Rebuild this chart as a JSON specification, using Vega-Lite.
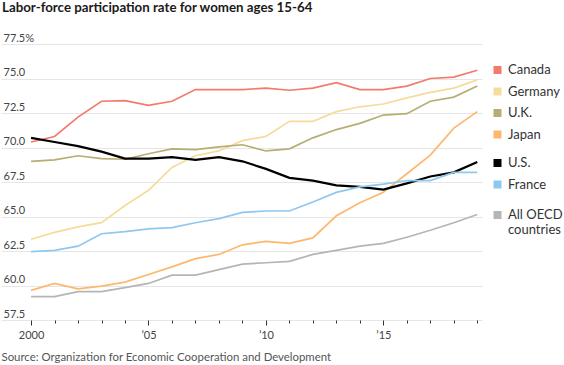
{
  "$schema": "https://vega.github.io/schema/vega-lite/v6.json",
  "autosize": "none",
  "width": 481,
  "height": 276,
  "padding": {"left": 1, "top": 44, "right": 82, "bottom": 45},
  "background": "white",
  "title": {
    "text": "Labor-force participation rate for women ages 15-64",
    "anchor": "start",
    "frame": "group",
    "font": "Lato",
    "fontSize": 13.3,
    "fontWeight": "bold",
    "color": "#1a1a1a",
    "offset": 18,
    "dx": 1
  },
  "config": {
    "view": {"stroke": null},
    "font": "Lato",
    "legend": {
      "symbolType": "square",
      "symbolSize": 16,
      "symbolStrokeWidth": 4,
      "labelFontSize": 13,
      "labelColor": "#333333",
      "labelFont": "Lato",
      "padding": 0,
      "rowPadding": 0.5,
      "labelOffset": 4,
      "title": null
    }
  },
  "data": {
    "values": [
      {"year": 2000, "country": "Canada", "value": 70.4},
      {"year": 2001, "country": "Canada", "value": 70.8},
      {"year": 2002, "country": "Canada", "value": 72.2},
      {"year": 2003, "country": "Canada", "value": 73.35},
      {"year": 2004, "country": "Canada", "value": 73.4},
      {"year": 2005, "country": "Canada", "value": 73.05},
      {"year": 2006, "country": "Canada", "value": 73.35},
      {"year": 2007, "country": "Canada", "value": 74.2},
      {"year": 2008, "country": "Canada", "value": 74.2},
      {"year": 2009, "country": "Canada", "value": 74.2},
      {"year": 2010, "country": "Canada", "value": 74.3},
      {"year": 2011, "country": "Canada", "value": 74.15},
      {"year": 2012, "country": "Canada", "value": 74.3},
      {"year": 2013, "country": "Canada", "value": 74.7},
      {"year": 2014, "country": "Canada", "value": 74.2},
      {"year": 2015, "country": "Canada", "value": 74.2},
      {"year": 2016, "country": "Canada", "value": 74.45},
      {"year": 2017, "country": "Canada", "value": 75.0},
      {"year": 2018, "country": "Canada", "value": 75.1},
      {"year": 2019, "country": "Canada", "value": 75.6},
      {"year": 2000, "country": "Germany", "value": 63.35},
      {"year": 2001, "country": "Germany", "value": 63.85},
      {"year": 2002, "country": "Germany", "value": 64.25},
      {"year": 2003, "country": "Germany", "value": 64.55},
      {"year": 2004, "country": "Germany", "value": 65.8},
      {"year": 2005, "country": "Germany", "value": 66.9},
      {"year": 2006, "country": "Germany", "value": 68.55},
      {"year": 2007, "country": "Germany", "value": 69.4},
      {"year": 2008, "country": "Germany", "value": 69.75},
      {"year": 2009, "country": "Germany", "value": 70.5},
      {"year": 2010, "country": "Germany", "value": 70.8},
      {"year": 2011, "country": "Germany", "value": 71.9},
      {"year": 2012, "country": "Germany", "value": 71.9},
      {"year": 2013, "country": "Germany", "value": 72.6},
      {"year": 2014, "country": "Germany", "value": 72.95},
      {"year": 2015, "country": "Germany", "value": 73.15},
      {"year": 2016, "country": "Germany", "value": 73.6},
      {"year": 2017, "country": "Germany", "value": 74.0},
      {"year": 2018, "country": "Germany", "value": 74.3},
      {"year": 2019, "country": "Germany", "value": 74.9},
      {"year": 2000, "country": "U.K.", "value": 69.0},
      {"year": 2001, "country": "U.K.", "value": 69.1},
      {"year": 2002, "country": "U.K.", "value": 69.4},
      {"year": 2003, "country": "U.K.", "value": 69.2},
      {"year": 2004, "country": "U.K.", "value": 69.15},
      {"year": 2005, "country": "U.K.", "value": 69.55},
      {"year": 2006, "country": "U.K.", "value": 69.9},
      {"year": 2007, "country": "U.K.", "value": 69.85},
      {"year": 2008, "country": "U.K.", "value": 70.05},
      {"year": 2009, "country": "U.K.", "value": 70.2},
      {"year": 2010, "country": "U.K.", "value": 69.75},
      {"year": 2011, "country": "U.K.", "value": 69.9},
      {"year": 2012, "country": "U.K.", "value": 70.7},
      {"year": 2013, "country": "U.K.", "value": 71.3},
      {"year": 2014, "country": "U.K.", "value": 71.75},
      {"year": 2015, "country": "U.K.", "value": 72.35},
      {"year": 2016, "country": "U.K.", "value": 72.45},
      {"year": 2017, "country": "U.K.", "value": 73.35},
      {"year": 2018, "country": "U.K.", "value": 73.65},
      {"year": 2019, "country": "U.K.", "value": 74.45},
      {"year": 2000, "country": "Japan", "value": 59.65},
      {"year": 2001, "country": "Japan", "value": 60.15},
      {"year": 2002, "country": "Japan", "value": 59.75},
      {"year": 2003, "country": "Japan", "value": 59.95},
      {"year": 2004, "country": "Japan", "value": 60.25},
      {"year": 2005, "country": "Japan", "value": 60.8},
      {"year": 2006, "country": "Japan", "value": 61.35},
      {"year": 2007, "country": "Japan", "value": 61.95},
      {"year": 2008, "country": "Japan", "value": 62.25},
      {"year": 2009, "country": "Japan", "value": 62.95},
      {"year": 2010, "country": "Japan", "value": 63.2},
      {"year": 2011, "country": "Japan", "value": 63.05},
      {"year": 2012, "country": "Japan", "value": 63.45},
      {"year": 2013, "country": "Japan", "value": 65.05},
      {"year": 2014, "country": "Japan", "value": 66.0},
      {"year": 2015, "country": "Japan", "value": 66.75},
      {"year": 2016, "country": "Japan", "value": 68.1},
      {"year": 2017, "country": "Japan", "value": 69.45},
      {"year": 2018, "country": "Japan", "value": 71.4},
      {"year": 2019, "country": "Japan", "value": 72.6},
      {"year": 2000, "country": "U.S.", "value": 70.7},
      {"year": 2001, "country": "U.S.", "value": 70.4},
      {"year": 2002, "country": "U.S.", "value": 70.1},
      {"year": 2003, "country": "U.S.", "value": 69.7},
      {"year": 2004, "country": "U.S.", "value": 69.2},
      {"year": 2005, "country": "U.S.", "value": 69.2},
      {"year": 2006, "country": "U.S.", "value": 69.3},
      {"year": 2007, "country": "U.S.", "value": 69.1},
      {"year": 2008, "country": "U.S.", "value": 69.3},
      {"year": 2009, "country": "U.S.", "value": 69.0},
      {"year": 2010, "country": "U.S.", "value": 68.45},
      {"year": 2011, "country": "U.S.", "value": 67.8},
      {"year": 2012, "country": "U.S.", "value": 67.6},
      {"year": 2013, "country": "U.S.", "value": 67.25},
      {"year": 2014, "country": "U.S.", "value": 67.15},
      {"year": 2015, "country": "U.S.", "value": 66.95},
      {"year": 2016, "country": "U.S.", "value": 67.4},
      {"year": 2017, "country": "U.S.", "value": 67.9},
      {"year": 2018, "country": "U.S.", "value": 68.2},
      {"year": 2019, "country": "U.S.", "value": 68.95},
      {"year": 2000, "country": "France", "value": 62.45},
      {"year": 2001, "country": "France", "value": 62.55},
      {"year": 2002, "country": "France", "value": 62.85},
      {"year": 2003, "country": "France", "value": 63.75},
      {"year": 2004, "country": "France", "value": 63.9},
      {"year": 2005, "country": "France", "value": 64.1},
      {"year": 2006, "country": "France", "value": 64.2},
      {"year": 2007, "country": "France", "value": 64.55},
      {"year": 2008, "country": "France", "value": 64.85},
      {"year": 2009, "country": "France", "value": 65.3},
      {"year": 2010, "country": "France", "value": 65.4},
      {"year": 2011, "country": "France", "value": 65.4},
      {"year": 2012, "country": "France", "value": 66.05},
      {"year": 2013, "country": "France", "value": 66.75},
      {"year": 2014, "country": "France", "value": 67.15},
      {"year": 2015, "country": "France", "value": 67.35},
      {"year": 2016, "country": "France", "value": 67.6},
      {"year": 2017, "country": "France", "value": 67.6},
      {"year": 2018, "country": "France", "value": 68.2},
      {"year": 2019, "country": "France", "value": 68.2},
      {"year": 2000, "country": "All OECD countries", "value": 59.2},
      {"year": 2001, "country": "All OECD countries", "value": 59.2},
      {"year": 2002, "country": "All OECD countries", "value": 59.55},
      {"year": 2003, "country": "All OECD countries", "value": 59.55},
      {"year": 2004, "country": "All OECD countries", "value": 59.85},
      {"year": 2005, "country": "All OECD countries", "value": 60.15},
      {"year": 2006, "country": "All OECD countries", "value": 60.75},
      {"year": 2007, "country": "All OECD countries", "value": 60.75},
      {"year": 2008, "country": "All OECD countries", "value": 61.15},
      {"year": 2009, "country": "All OECD countries", "value": 61.55},
      {"year": 2010, "country": "All OECD countries", "value": 61.65},
      {"year": 2011, "country": "All OECD countries", "value": 61.75},
      {"year": 2012, "country": "All OECD countries", "value": 62.25},
      {"year": 2013, "country": "All OECD countries", "value": 62.55},
      {"year": 2014, "country": "All OECD countries", "value": 62.85},
      {"year": 2015, "country": "All OECD countries", "value": 63.05},
      {"year": 2016, "country": "All OECD countries", "value": 63.5},
      {"year": 2017, "country": "All OECD countries", "value": 64.0},
      {"year": 2018, "country": "All OECD countries", "value": 64.55},
      {"year": 2019, "country": "All OECD countries", "value": 65.15}
    ]
  },
  "encoding": {
    "x": {
      "field": "year",
      "type": "quantitative",
      "scale": {"domain": [1998.72, 2019.2], "nice": false, "zero": false},
      "axis": {
        "values": [2000, 2001, 2002, 2003, 2004, 2005, 2006, 2007, 2008, 2009, 2010, 2011, 2012, 2013, 2014, 2015, 2016, 2017, 2018, 2019],
        "format": "d",
        "labelExpr": "datum.value == 2000 ? '2000' : (datum.value % 5 == 0 ? '’' + substring(toString(datum.value), 2) : '')",
        "grid": false,
        "domain": false,
        "tickColor": "#333333",
        "tickSize": {"condition": {"test": "datum.value % 5 == 0", "value": 5}, "value": 3},
        "labelPadding": 4,
        "labelFontSize": 11,
        "labelColor": "#444444",
        "labelFont": "Lato",
        "labelOverlap": false,
        "labelFlush": false,
        "title": "Source: Organization for Economic Cooperation and Development",
        "titleAnchor": "start",
        "titleAlign": "left",
        "titleBaseline": "alphabetic",
        "titleX": 0,
        "titleY": 40,
        "titleFont": "Lato",
        "titleFontSize": 11.4,
        "titleFontWeight": "normal",
        "titleColor": "#555555"
      }
    },
    "y": {
      "field": "value",
      "type": "quantitative",
      "scale": {"domain": [57.5, 77.5], "nice": false, "zero": false},
      "axis": {
        "values": [57.5, 60, 62.5, 65, 67.5, 70, 72.5, 75, 77.5],
        "format": ".1f",
        "labelExpr": "datum.value == 77.5 ? datum.label + '%' : datum.label",
        "grid": true,
        "gridColor": "#e6e6e6",
        "gridWidth": 1,
        "domain": false,
        "ticks": false,
        "tickSize": 0,
        "labelAlign": "left",
        "labelBaseline": "bottom",
        "labelPadding": -2,
        "labelOffset": -1,
        "labelFontSize": 11,
        "labelColor": "#444444",
        "labelFont": "Lato",
        "title": null
      }
    }
  },
  "layer": [
    {
      "transform": [{"filter": "indexof(['Canada','Germany','U.K.','Japan'], datum.country) >= 0"}],
      "mark": {"type": "line", "strokeWidth": 1.7},
      "encoding": {
        "color": {
          "field": "country",
          "type": "nominal",
          "scale": {"domain": ["Canada", "Germany", "U.K.", "Japan"], "range": ["#f27b6c", "#f6dc9c", "#b6ae72", "#fdb86b"]},
          "legend": {"orient": "none", "legendX": 490, "legendY": 19.5}
        }
      }
    },
    {
      "transform": [{"filter": "indexof(['U.S.','France'], datum.country) >= 0"}],
      "mark": {"type": "line"},
      "encoding": {
        "color": {
          "field": "country",
          "type": "nominal",
          "scale": {"domain": ["U.S.", "France"], "range": ["#000000", "#8fc8ef"]},
          "legend": {"orient": "none", "legendX": 490, "legendY": 112.5}
        },
        "strokeWidth": {"condition": {"test": "datum.country === 'U.S.'", "value": 2.2}, "value": 1.7}
      }
    },
    {
      "transform": [{"filter": "datum.country === 'All OECD countries'"}],
      "mark": {"type": "line", "strokeWidth": 1.7},
      "encoding": {
        "color": {
          "field": "country",
          "type": "nominal",
          "scale": {"domain": ["All OECD countries"], "range": ["#b5b5b5"]},
          "legend": {
            "orient": "none",
            "legendX": 490,
            "legendY": 164.5,
            "labelExpr": "datum.label == 'All OECD countries' ? ['All OECD', 'countries'] : datum.label"
          }
        }
      }
    }
  ],
  "resolve": {"scale": {"color": "independent"}}
}
